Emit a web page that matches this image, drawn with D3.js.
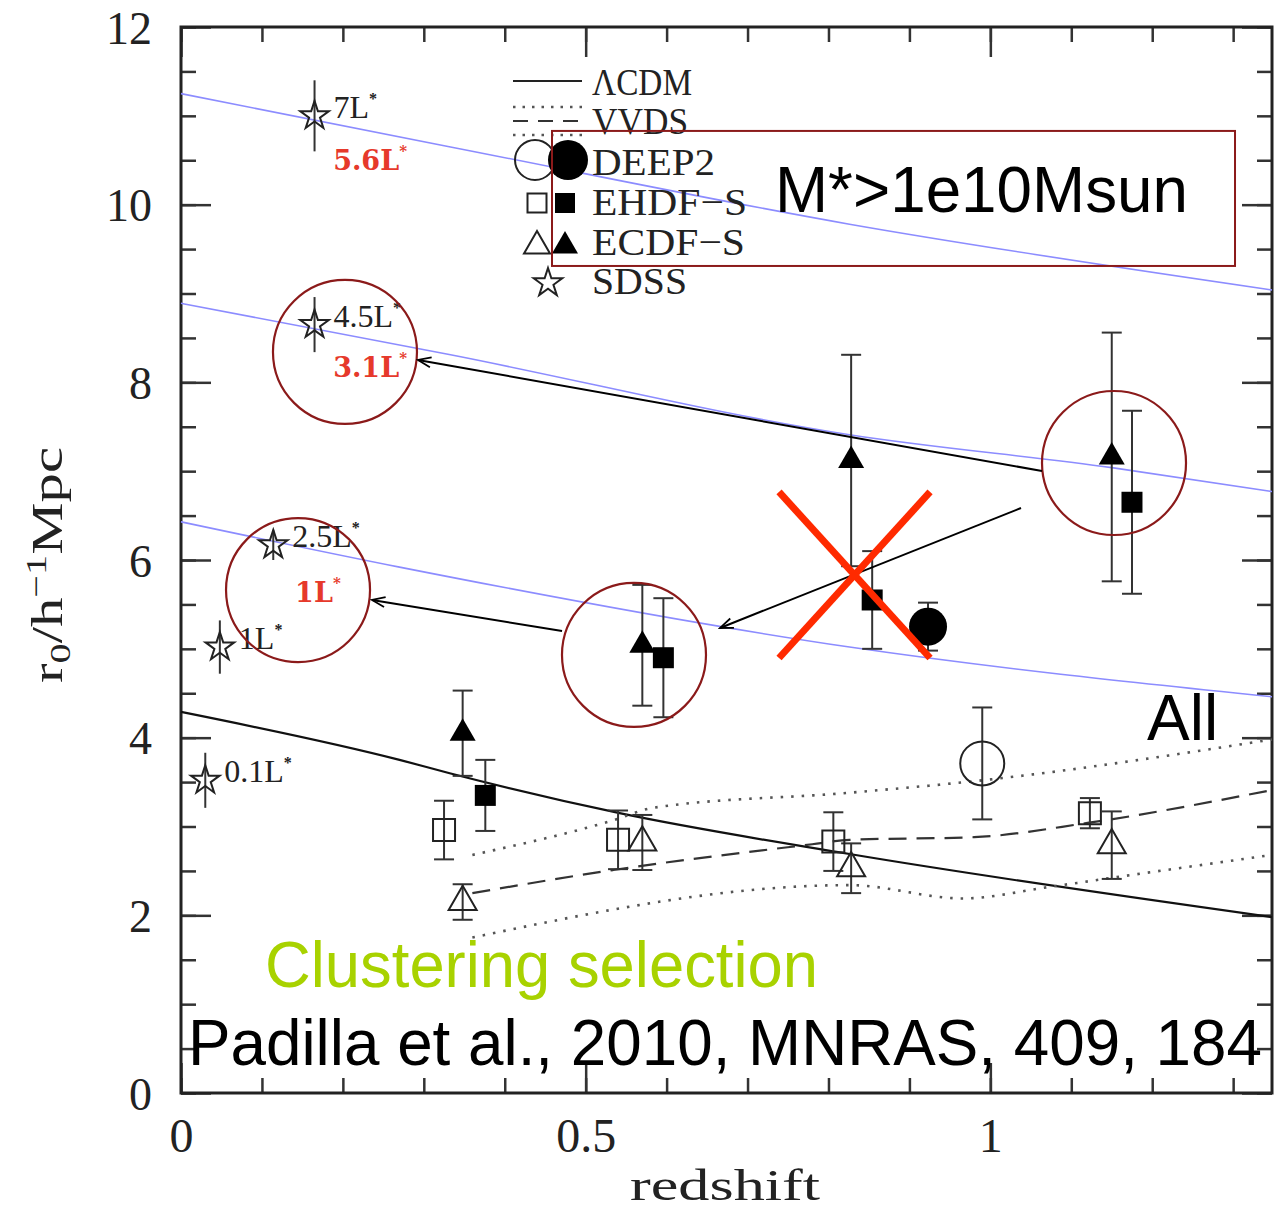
<!DOCTYPE html>
<html><head><meta charset="utf-8">
<script src="https://cdn.jsdelivr.net/npm/d3@7"></script>
<style>body{margin:0;background:#fff}</style>
</head><body>
<svg id="chart" width="1280" height="1212"></svg>
<script>
// ---------------- DATA ----------------
const xTickLabels = [0, 0.5, 1];
const yTickLabels = [0, 2, 4, 6, 8, 10, 12];

// theoretical light-blue curves (z, r0)
const blueHighZ = [0, 0.333, 0.826, 1.348];
const blueHighR = [11.25, 10.65, 9.78, 9.04];
const blueMidZ = [0, 0.333, 0.826, 1.15, 1.348];
const blueMidR = [8.89, 8.31, 7.41, 7.04, 6.77];
const blueLowZ = [0, 0.27, 0.826, 1.348];
const blueLowR = [6.43, 5.92, 5.02, 4.46];

// LambdaCDM
const lcdmZ = [0, 0.27, 0.332, 0.542, 0.826, 1.348];
const lcdmR = [4.29, 3.75, 3.60, 3.15, 2.69, 1.98];

// VVDS (upper dotted, dashed, lower dotted)
const vvdsUpZ = [0.36, 0.534, 0.583, 0.826, 0.99, 1.348];
const vvdsUpR = [2.68, 3.07, 3.21, 3.38, 3.52, 3.98];
const vvdsMidZ = [0.36, 0.534, 0.78, 0.826, 0.98, 1.12, 1.348];
const vvdsMidR = [2.25, 2.51, 2.80, 2.85, 2.88, 3.04, 3.41];
const vvdsLowZ = [0.36, 0.826, 0.966, 1.073, 1.156, 1.348];
const vvdsLowR = [1.75, 2.34, 2.19, 2.32, 2.43, 2.68];

// SDSS stars
const sdssZ = [0.165, 0.165, 0.114, 0.048, 0.030];
const sdssR = [11.0, 8.65, 6.17, 5.02, 3.52];
const sdssErr = [0.40, 0.31, 0.17, 0.30, 0.31];
const sdssLabels = ["7", "4.5", "2.5", "1", "0.1"];

// DEEP2
const deepFillZ = [0.923], deepFillR = [5.25], deepFillErr = [0.27];
const deepOpenZ = [0.99], deepOpenR = [3.71], deepOpenErr = [0.63];

// EHDF-S
const ehdfFillZ = [0.376, 0.596, 0.854, 1.175];
const ehdfFillR = [3.35, 4.90, 5.55, 6.65];
const ehdfFillErr = [0.40, 0.67, 0.55, 1.03];
const ehdfOpenZ = [0.325, 0.540, 0.806, 1.123];
const ehdfOpenR = [2.96, 2.85, 2.83, 3.15];
const ehdfOpenErr = [0.33, 0.33, 0.33, 0.17];

// ECDF-S
const ecdfFillZ = [0.348, 0.570, 0.828, 1.150];
const ecdfFillR = [4.05, 5.04, 7.12, 7.16];
const ecdfFillErr = [0.48, 0.68, 1.19, 1.40];
const ecdfOpenZ = [0.348, 0.570, 0.828, 1.150];
const ecdfOpenR = [2.15, 2.82, 2.53, 2.79];
const ecdfOpenErr = [0.20, 0.31, 0.28, 0.38];

// red luminosity labels (z, r0, text)
const redLabelZ = [0.188, 0.188, 0.141];
const redLabelR = [10.39, 8.06, 5.53];
const redLabelText = ["5.6", "3.1", "1"];

// annotation circles (z, r0)
const circZ = [0.2026, 0.1446, 0.5597, 1.1528];
const circR = [8.342, 5.662, 4.931, 7.092];
// annotation arrows: from (z,r) to (z,r)
const arrowFrom = [[1.0638, 7.002], [1.0379, 6.585], [0.4708, 5.201]];
const arrowTo = [[0.2928, 8.252], [0.666, 5.235], [0.236, 5.55]];
// red cross
const crossA = [[0.7389, 6.766], [0.9255, 4.897]];
const crossB = [[0.9255, 6.766], [0.7389, 4.897]];
// box
const boxZ = [0.4584, 1.3023], boxR = [10.83, 9.31];

// ---------------- DRAW ----------------
const svg = d3.select("#chart");
const x = d3.scaleLinear().domain([0, 1.348]).range([181, 1272]);
const y = d3.scaleLinear().domain([0, 12]).range([1093, 27]);
const L = 181, R = 1272, T = 27, B = 1093;

svg.append("defs").append("marker")
  .attr("id", "arr").attr("markerUnits", "userSpaceOnUse")
  .attr("viewBox", "-16 -8 18 16").attr("markerWidth", 18).attr("markerHeight", 16)
  .attr("refX", 0).attr("refY", 0).attr("orient", "auto")
  .append("path").attr("d", "M-13,-5L0,0L-13,5").attr("fill", "none")
  .attr("stroke", "#000").attr("stroke-width", 1.8);

// axes (inward ticks on all sides)
function axisStyle(g) {
  g.select(".domain").remove();
  g.selectAll("line").attr("stroke", "#333").attr("stroke-width", 2.5);
}
const xMinor = d3.range(0, 14).map(i => i / 10);
const yMinor = d3.range(0, 25).map(i => i / 2);
svg.append("g").attr("transform", `translate(0,${B})`)
  .call(d3.axisBottom(x).tickValues(xMinor).tickSize(-15).tickFormat("")).call(axisStyle);
svg.append("g").attr("transform", `translate(0,${T})`)
  .call(d3.axisTop(x).tickValues(xMinor).tickSize(-15).tickFormat("")).call(axisStyle);
svg.append("g").attr("transform", `translate(${L},0)`)
  .call(d3.axisLeft(y).tickValues(yMinor).tickSize(-15).tickFormat("")).call(axisStyle);
svg.append("g").attr("transform", `translate(${R},0)`)
  .call(d3.axisRight(y).tickValues(yMinor).tickSize(-15).tickFormat("")).call(axisStyle);
svg.append("g").attr("transform", `translate(${L},0)`)
  .call(d3.axisLeft(y).tickValues(yTickLabels).tickSize(-30).tickFormat(d3.format("d"))).call(axisStyle)
  .call(g => g.selectAll("text").attr("x", -29).attr("dy", "0.35em")
    .attr("font-family", "Liberation Serif").attr("font-size", 46).attr("fill", "#222"));
svg.append("g").attr("transform", `translate(${R},0)`)
  .call(d3.axisRight(y).tickValues(yTickLabels).tickSize(-30).tickFormat("")).call(axisStyle);
svg.append("g").attr("transform", `translate(0,${B})`)
  .call(d3.axisBottom(x).tickValues(xTickLabels).tickSize(-30).tickFormat(d => d === 0 ? "0" : d3.format("")(d))).call(axisStyle)
  .call(g => g.selectAll("text").attr("y", 59).attr("dy", 0)
    .attr("font-family", "Liberation Serif").attr("font-size", 48).attr("fill", "#222"));
svg.append("g").attr("transform", `translate(0,${T})`)
  .call(d3.axisTop(x).tickValues(xTickLabels).tickSize(-30).tickFormat("")).call(axisStyle);

// frame
svg.append("rect").attr("x", L).attr("y", T).attr("width", R - L).attr("height", B - T)
  .attr("fill", "none").attr("stroke", "#222").attr("stroke-width", 3);

// axis titles
svg.append("text").attr("x", 725).attr("y", 1200).attr("text-anchor", "middle")
  .attr("font-family", "Liberation Serif").attr("font-size", 44).attr("fill", "#222")
  .attr("textLength", 190).attr("lengthAdjust", "spacingAndGlyphs").text("redshift");
const yl = svg.append("text").attr("transform", "translate(62,447) rotate(-90)")
  .attr("text-anchor", "end").attr("font-family", "Liberation Serif").attr("font-size", 44)
  .attr("fill", "#222").attr("textLength", 236).attr("lengthAdjust", "spacingAndGlyphs");
yl.append("tspan").text("r");
yl.append("tspan").attr("font-size", 30).attr("dy", 8).text("0");
yl.append("tspan").attr("dy", -8).text("/h");
yl.append("tspan").attr("font-size", 30).attr("dy", -16).text("−1");
yl.append("tspan").attr("dy", 16).text("Mpc");

// lines
const line = d3.line().x(d => x(d[0])).y(d => y(d[1])).curve(d3.curveMonotoneX);
const zip = (a, b) => a.map((v, i) => [v, b[i]]);
[[blueHighZ, blueHighR], [blueMidZ, blueMidR], [blueLowZ, blueLowR]].forEach(([zz, rr]) => {
  svg.append("path").attr("d", line(zip(zz, rr))).attr("fill", "none")
    .attr("stroke", "#8c8cff").attr("stroke-width", 1.6);
});
svg.append("path").attr("d", line(zip(lcdmZ, lcdmR))).attr("fill", "none")
  .attr("stroke", "#111").attr("stroke-width", 2.2);
[[vvdsUpZ, vvdsUpR], [vvdsLowZ, vvdsLowR]].forEach(([zz, rr]) => {
  svg.append("path").attr("d", line(zip(zz, rr))).attr("fill", "none")
    .attr("stroke", "#555").attr("stroke-width", 2.6).attr("stroke-dasharray", "2.5,8");
});
svg.append("path").attr("d", line(zip(vvdsMidZ, vvdsMidR))).attr("fill", "none")
  .attr("stroke", "#333").attr("stroke-width", 2.2).attr("stroke-dasharray", "18,10");

// error bars
function errBars(zz, rr, ee, cap) {
  zz.forEach((z, i) => {
    const cx = x(z), y1 = y(rr[i] - ee[i]), y2 = y(rr[i] + ee[i]);
    svg.append("line").attr("x1", cx).attr("x2", cx).attr("y1", y1).attr("y2", y2)
      .attr("stroke", "#333").attr("stroke-width", 2);
    if (cap) [y1, y2].forEach(yy => svg.append("line").attr("x1", cx - 10).attr("x2", cx + 10)
      .attr("y1", yy).attr("y2", yy).attr("stroke", "#333").attr("stroke-width", 2));
  });
}
errBars(sdssZ, sdssR, sdssErr, false);
errBars(deepFillZ, deepFillR, deepFillErr, true);
errBars(deepOpenZ, deepOpenR, deepOpenErr, true);
errBars(ehdfFillZ, ehdfFillR, ehdfFillErr, true);
errBars(ehdfOpenZ, ehdfOpenR, ehdfOpenErr, true);
errBars(ecdfFillZ, ecdfFillR, ecdfFillErr, true);
errBars(ecdfOpenZ, ecdfOpenR, ecdfOpenErr, true);

// markers
const triSize = a => Math.sqrt(3) / 4 * a * a;
const sym = (type, size) => d3.symbol().type(type).size(size)();
function markers(zz, rr, type, size, filled) {
  zz.forEach((z, i) => {
    svg.append("path").attr("d", sym(type, size))
      .attr("transform", `translate(${x(z)},${y(rr[i])})`)
      .attr("fill", filled ? "#000" : "none").attr("stroke", filled ? "#000" : "#222")
      .attr("stroke-width", filled ? 0 : 2);
  });
}
const starSize = 15 * 15 / 0.8908130915292852;
markers(sdssZ, sdssR, d3.symbolStar, starSize, false);
markers(deepFillZ, deepFillR, d3.symbolCircle, Math.PI * 19 * 19, true);
markers(deepOpenZ, deepOpenR, d3.symbolCircle, Math.PI * 22 * 22, false);
markers(ehdfFillZ, ehdfFillR, d3.symbolSquare, 21 * 21, true);
markers(ehdfOpenZ, ehdfOpenR, d3.symbolSquare, 22 * 22, false);
markers(ecdfFillZ, ecdfFillR, d3.symbolTriangle, triSize(26), true);
markers(ecdfOpenZ, ecdfOpenR, d3.symbolTriangle, triSize(28), false);

// star labels
sdssZ.forEach((z, i) => {
  const t = svg.append("text").attr("x", x(z) + 19).attr("y", y(sdssR[i]) + 2)
    .attr("font-family", "Liberation Serif").attr("font-size", 32).attr("fill", "#222");
  t.append("tspan").text(sdssLabels[i] + "L");
  t.append("tspan").attr("font-size", 16).attr("dy", -14).attr("font-weight", "bold").text("*");
});
redLabelZ.forEach((z, i) => {
  const t = svg.append("text").attr("x", x(z)).attr("y", y(redLabelR[i]))
    .attr("font-family", "DejaVu Serif").attr("font-size", 27).attr("font-weight", "bold")
    .attr("fill", "#e6392b");
  t.append("tspan").text(redLabelText[i] + "L");
  t.append("tspan").attr("font-size", 15).attr("dy", -14).text("*");
});

// legend
const lg = svg.append("g");
const legFont = (sel, w) => sel.attr("font-family", "Liberation Serif").attr("font-size", 38)
  .attr("fill", "#222").attr("textLength", w).attr("lengthAdjust", "spacingAndGlyphs");
lg.append("line").attr("x1", 513).attr("x2", 582).attr("y1", 81).attr("y2", 81)
  .attr("stroke", "#222").attr("stroke-width", 2);
lg.append("text").attr("x", 592).attr("y", 95).call(legFont, 100).text("ΛCDM");
lg.append("line").attr("x1", 513).attr("x2", 582).attr("y1", 107).attr("y2", 107)
  .attr("stroke", "#555").attr("stroke-width", 2.4).attr("stroke-dasharray", "2.5,7");
lg.append("line").attr("x1", 513).attr("x2", 582).attr("y1", 121).attr("y2", 121)
  .attr("stroke", "#333").attr("stroke-width", 2).attr("stroke-dasharray", "15,10");
lg.append("line").attr("x1", 513).attr("x2", 582).attr("y1", 135).attr("y2", 135)
  .attr("stroke", "#555").attr("stroke-width", 2.4).attr("stroke-dasharray", "2.5,7");
lg.append("text").attr("x", 592).attr("y", 134).call(legFont, 96).text("VVDS");
const legSym = (type, size, cx, cy, filled) => lg.append("path").attr("d", sym(type, size))
  .attr("transform", `translate(${cx},${cy})`).attr("fill", filled ? "#000" : "none")
  .attr("stroke", "#222").attr("stroke-width", filled ? 0 : 2);
legSym(d3.symbolCircle, Math.PI * 20 * 20, 535, 160, false);
legSym(d3.symbolCircle, Math.PI * 20 * 20, 568, 160, true);
lg.append("text").attr("x", 592).attr("y", 175).call(legFont, 123).text("DEEP2");
legSym(d3.symbolSquare, 19 * 19, 537, 203, false);
legSym(d3.symbolSquare, 20 * 20, 565, 203, true);
lg.append("text").attr("x", 592).attr("y", 215).call(legFont, 155).text("EHDF−S");
legSym(d3.symbolTriangle, triSize(26), 537, 246, false);
legSym(d3.symbolTriangle, triSize(26), 565, 246, true);
lg.append("text").attr("x", 592).attr("y", 255).call(legFont, 153).text("ECDF−S");
legSym(d3.symbolStar, starSize, 548, 283, false);
lg.append("text").attr("x", 592).attr("y", 294).call(legFont, 95).text("SDSS");

// annotation box
svg.append("rect").attr("x", x(boxZ[0])).attr("y", y(boxR[0]))
  .attr("width", x(boxZ[1]) - x(boxZ[0])).attr("height", y(boxR[1]) - y(boxR[0]))
  .attr("fill", "none").attr("stroke", "#8b1a1a").attr("stroke-width", 2);
const sans = (sel, col) => sel.attr("font-family", "Liberation Sans").attr("font-size", 64).attr("fill", col);
svg.append("text").attr("x", 775).attr("y", 212).call(sans, "#000")
  .attr("textLength", 413).attr("lengthAdjust", "spacingAndGlyphs").text("M*>1e10Msun");
svg.append("text").attr("x", 1147).attr("y", 740).call(sans, "#000").text("All");
svg.append("text").attr("x", 265).attr("y", 987).call(sans, "#a8d200")
  .attr("textLength", 553).attr("lengthAdjust", "spacingAndGlyphs").text("Clustering selection");
svg.append("text").attr("x", 188).attr("y", 1065).call(sans, "#000")
  .attr("textLength", 1074).attr("lengthAdjust", "spacingAndGlyphs").text("Padilla et al., 2010, MNRAS, 409, 184");

// circles
circZ.forEach((z, i) => svg.append("circle").attr("cx", x(z)).attr("cy", y(circR[i])).attr("r", 72)
  .attr("fill", "none").attr("stroke", "#8b1a1a").attr("stroke-width", 2.2));
// arrows
arrowFrom.forEach((f, i) => svg.append("line")
  .attr("x1", x(f[0])).attr("y1", y(f[1])).attr("x2", x(arrowTo[i][0])).attr("y2", y(arrowTo[i][1]))
  .attr("stroke", "#000").attr("stroke-width", 2).attr("marker-end", "url(#arr)"));
// red cross
[crossA, crossB].forEach(c => svg.append("line")
  .attr("x1", x(c[0][0])).attr("y1", y(c[0][1])).attr("x2", x(c[1][0])).attr("y2", y(c[1][1]))
  .attr("stroke", "#ff2a00").attr("stroke-width", 7));
</script>
</body></html>
